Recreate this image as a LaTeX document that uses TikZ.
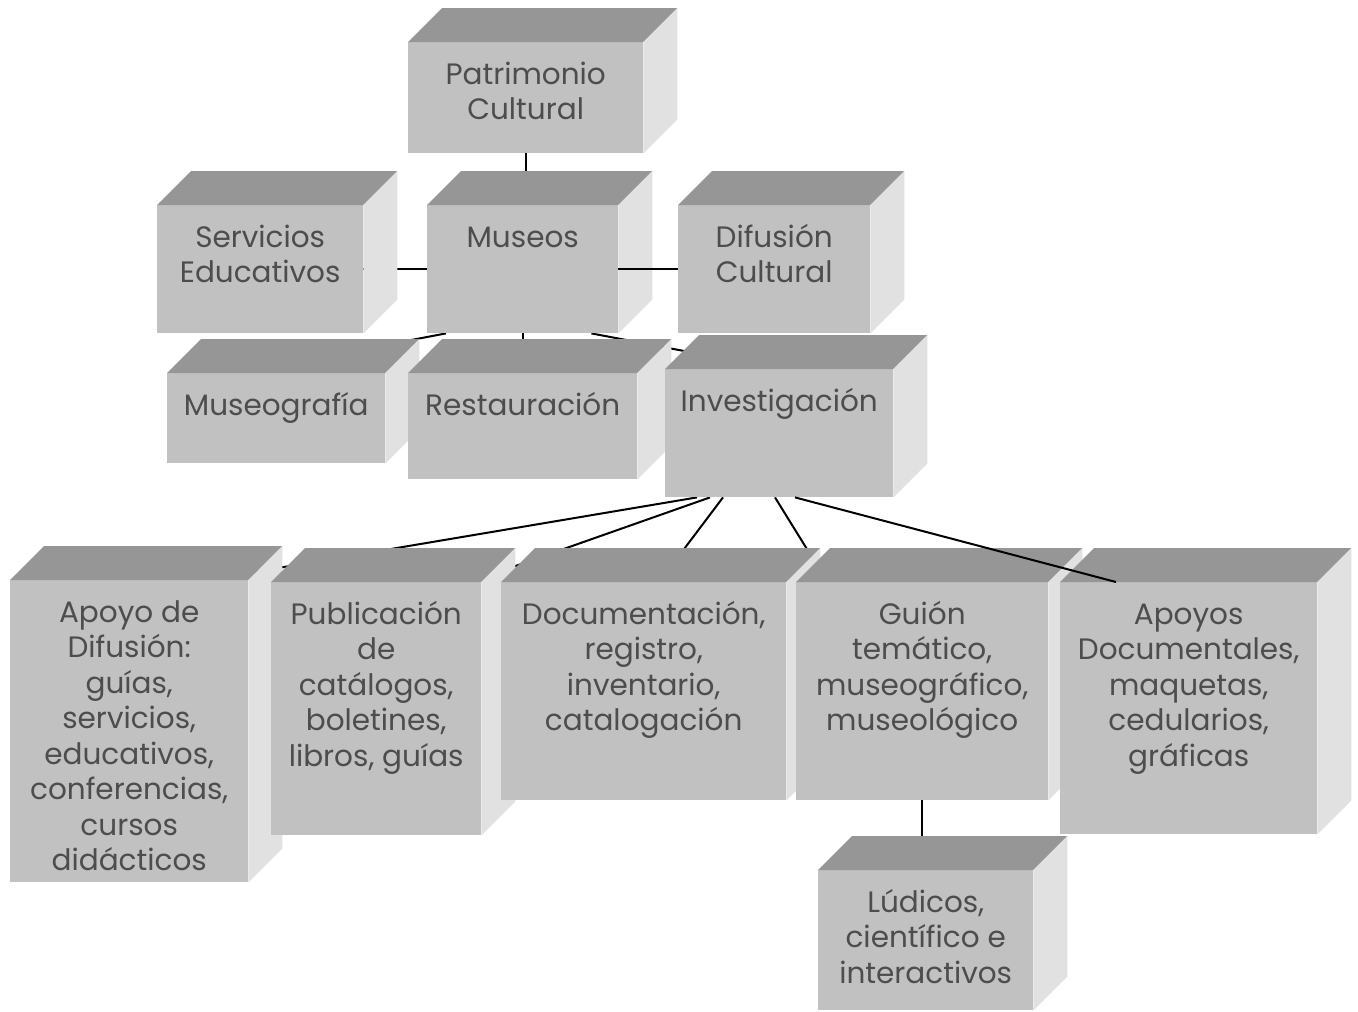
\documentclass[tikz,border=0pt]{standalone}
\usepackage{fontspec}
\setmainfont{Poppins}
\usepackage{tikz}
\usetikzlibrary{backgrounds}
\definecolor{frontgray}{HTML}{C1C1C1}
\definecolor{topgray}{HTML}{969696}
\definecolor{sidegray}{HTML}{E1E1E1}
\definecolor{labelgray}{HTML}{4D4D4D}
\tikzset{
  cubeface/.style={rectangle,fill=frontgray,inner sep=0pt,anchor=north west,text=labelgray,font=\fontsize{29.5}{35.5}\selectfont},
  cubetop/.style={fill=topgray},
  cubeside/.style={fill=sidegray},
  orgline/.style={line width=2pt,black},
}

\begin{document}
\begin{tikzpicture}[x=1pt,y=-1pt]
  \useasboundingbox (0,0) rectangle (1358,1012);
  % boxes: front face corner, width, height, then top and side faces
  \foreach \n/\x/\y/\bw/\bh/\txt in {
      patrimonio/408/42/235/111/{Patrimonio\\Cultural},
      servicios/157/205/206/128/{Servicios\\Educativos},
      museos/427/205/191/128/{Museos},
      difusion/678/205/192/128/{Difusión\\Cultural},
      museografia/167/373/218/90/{Museografía},
      restauracion/408/373/229/106/{Restauración},
      investigacion/665/369/228/128/{Investigación},
      apoyo/10/580/238/302/{Apoyo de\\Difusión:\\guías,\\servicios,\\educativos,\\conferencias,\\cursos\\didácticos},
      publicacion/271/582/210/253/{Publicación\\de\\catálogos,\\boletines,\\libros, guías},
      documentacion/501/582/285/218/{Documentación,\\registro,\\inventario,\\catalogación},
      guion/796/582/252/218/{Guión\\temático,\\museográfico,\\museológico},
      apoyos/1060/582/257/252/{Apoyos\\Documentales,\\maquetas,\\cedularios,\\gráficas},
      ludicos/818/870/215/140/{Lúdicos,\\científico e\\interactivos}}{
    \node[cubeface] (\n) at (\x,\y) {\parbox[c][\bh pt][t]{\bw pt}{\centering\rule{0pt}{42pt}\txt}};
    \fill[cubetop] (\n.north west) -- ++(34,-34) -- ([shift={(34,-34)}]\n.north east) -- (\n.north east) -- cycle;
    \fill[cubeside] (\n.north east) -- ++(34,-34) -- ([shift={(34,-34)}]\n.south east) -- (\n.south east) -- cycle;
  }

  % connectors behind the boxes
  \begin{scope}[on background layer]
    \draw[orgline] (patrimonio.south) -- (patrimonio.south |- museos.center);
    \draw[orgline] (servicios.east) -- (museos.west);
    \draw[orgline] ([xshift=19]museos.south west) -- ([shift={(10,-30)}]museografia.north east);
    \draw[orgline] (museos.south) -- (museos.south |- restauracion.center);
    \draw[orgline] ([xshift=-27]museos.south east) -- ([shift={(35,-15)}]investigacion.north west);
    \draw[orgline] ([xshift=32]investigacion.south west) -- ([shift={(0,-7)}]apoyo.north east);
    \draw[orgline] ([xshift=45]investigacion.south west) -- ([shift={(17,-10)}]publicacion.north east);
    \draw[orgline] ([xshift=58]investigacion.south west) -- ([shift={(171,-17)}]documentacion.north west);
    \draw[orgline] ([xshift=110]investigacion.south west) -- ([shift={(27,-7)}]guion.north west);
    \draw[orgline] (guion.south) -- (guion.south |- ludicos.center);
  \end{scope}

  % connectors over the boxes
  \draw[orgline] (museos.east) -- (difusion.west);
  \draw[orgline] ([xshift=130]investigacion.south west) -- ([xshift=56]apoyos.north west);
\end{tikzpicture}
\end{document}
